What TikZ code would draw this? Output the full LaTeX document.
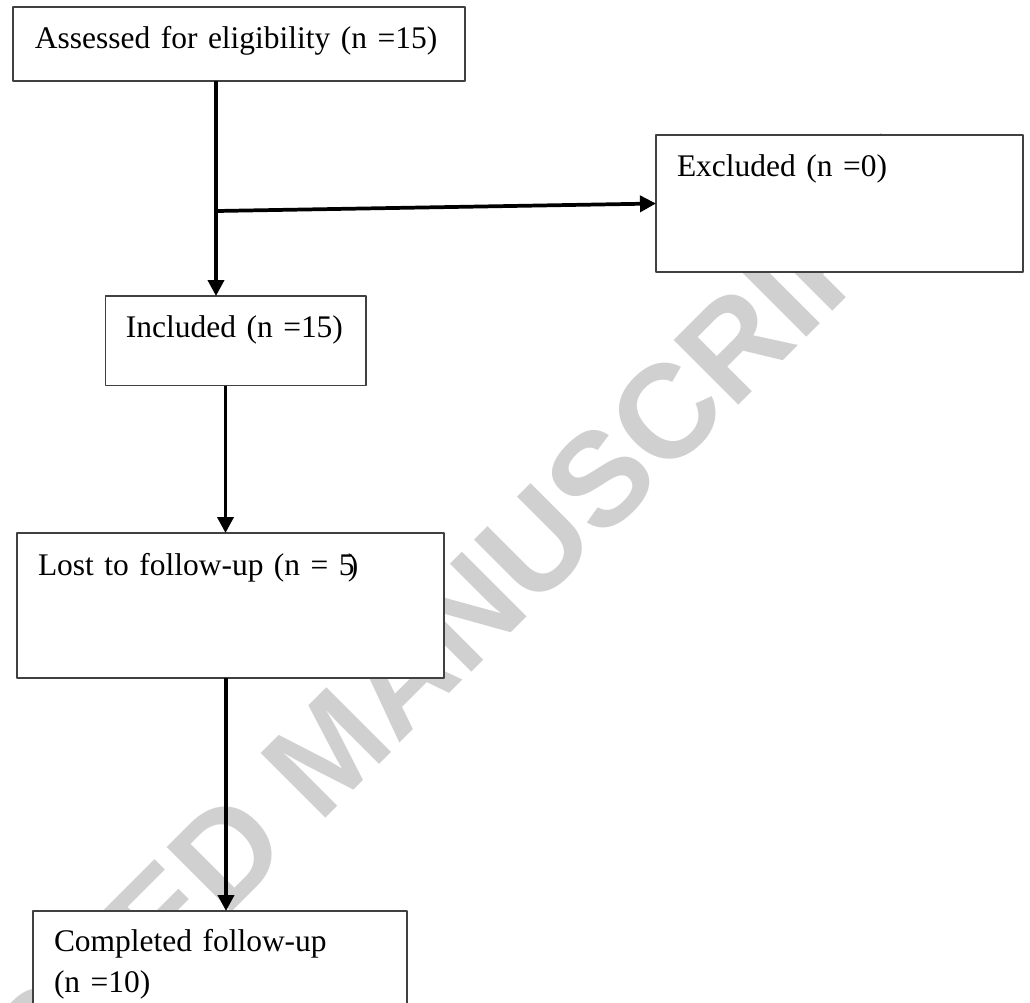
\documentclass[tikz,border=0pt]{standalone}
\usepackage{fontspec}
\setmainfont{Liberation Serif}
\newfontfamily\wmfont{Liberation Sans}
\usetikzlibrary{arrows.meta}
\definecolor{wmgray}{RGB}{208,208,208}
\newcommand{\pxu}{0.375pt}

\begin{document}
\begin{tikzpicture}[x=\pxu, y=-\pxu, line cap=round, line join=round,
  font=\fontsize{11.8}{15.4}\selectfont,
  box/.style={draw=black!75, line width=0.5pt, fill=white, anchor=north west,
    align=left, inner ysep=0pt, outer sep=0pt},
  arr/.style={line width=1.4pt, line cap=butt, -{Triangle[length=6pt,width=6pt]}},
  wm/.style={text=wmgray, inner sep=0pt, rotate=45,
    font=\wmfont\bfseries\fontsize{49.9}{52}\selectfont}]

\useasboundingbox (0,0) rectangle (1030,1002);
\clip (0,0) rectangle (1030,1002);

% --- Filigrana ---
\node[wm] (stamp) at (329,750) {ACCEPTED MANUSCRIPT};

% --- Riquadri ---
\node[box, inner xsep=8.25pt, text width=153pt, text height=15.5pt, text depth=12.26pt]
  (assess) at (13,7) {Assessed for eligibility (n =15)};
\node[box, inner xsep=7.875pt, text width=121.875pt, text height=15.64pt, text depth=35.74pt]
  (excl) at (656,135) {Excluded (n =0)};
\node[box, inner xsep=7.61pt, text width=82.39pt, text height=15.375pt, text depth=18.26pt]
  (incl) at (105.7,296) {Included (n =15)};
\node[box, inner xsep=7.875pt, text width=144.375pt, text height=15.75pt, text depth=38.625pt]
  (lost) at (17,533) {Lost to follow-up (n = 5\kern-0.22em)};
\node[box, inner xsep=7.875pt, text width=124.5pt, text height=15.26pt, text depth=41.25pt]
  (compl) at (33,911) {Completed follow-up\\(n =10)};

% --- Frecce ---
\coordinate (c1) at (216,0);
\coordinate (split) at (216,211);
\coordinate (c2) at (225.5,0);
\coordinate (c3) at (226,0);

\draw[arr] (assess.south -| c1) -- (incl.north -| c1);
\draw[arr] (split) -- (excl.west);
\draw[arr] (incl.south -| c2) -- (lost.north -| c2);
\draw[arr] (lost.south -| c3) -- (compl.north -| c3);
\end{tikzpicture}
\end{document}
